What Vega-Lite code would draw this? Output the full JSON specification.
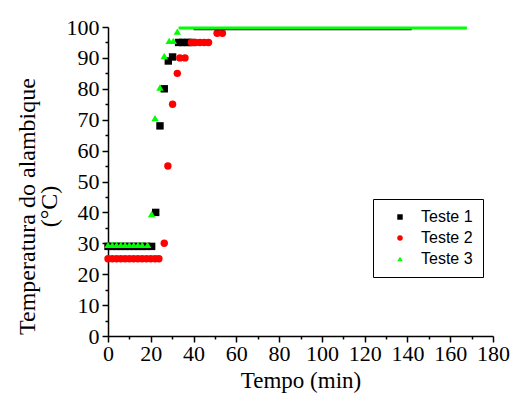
{
  "$schema": "https://vega.github.io/schema/vega-lite/v6.json",
  "width": 385,
  "height": 309,
  "autosize": {"type": "none"},
  "padding": {"left": 108, "top": 27, "right": 20, "bottom": 65},
  "background": "white",
  "config": {
    "font": "Liberation Serif",
    "view": {"stroke": null},
    "axis": {
      "labelFont": "Liberation Serif",
      "labelFontSize": 22,
      "labelColor": "black",
      "titleFont": "Liberation Serif",
      "titleFontSize": 23,
      "titleFontWeight": "normal",
      "titleColor": "black",
      "domainColor": "black",
      "domainWidth": 1.5,
      "tickColor": "black",
      "tickWidth": 1.5,
      "grid": false
    }
  },
  "datasets": {
    "pontos": [
      {"serie": "Teste 1", "tempo": 0, "temp": 29},
      {"serie": "Teste 1", "tempo": 2, "temp": 29},
      {"serie": "Teste 1", "tempo": 4, "temp": 29},
      {"serie": "Teste 1", "tempo": 6, "temp": 29},
      {"serie": "Teste 1", "tempo": 8, "temp": 29},
      {"serie": "Teste 1", "tempo": 10, "temp": 29},
      {"serie": "Teste 1", "tempo": 12, "temp": 29},
      {"serie": "Teste 1", "tempo": 14, "temp": 29},
      {"serie": "Teste 1", "tempo": 16, "temp": 29},
      {"serie": "Teste 1", "tempo": 18, "temp": 29},
      {"serie": "Teste 1", "tempo": 20.4, "temp": 29},
      {"serie": "Teste 1", "tempo": 22.3, "temp": 40},
      {"serie": "Teste 1", "tempo": 24.3, "temp": 68},
      {"serie": "Teste 1", "tempo": 26.3, "temp": 80},
      {"serie": "Teste 1", "tempo": 28.2, "temp": 89},
      {"serie": "Teste 1", "tempo": 30.2, "temp": 90.3},
      {"serie": "Teste 1", "tempo": 33, "temp": 95},
      {"serie": "Teste 1", "tempo": 35, "temp": 95},
      {"serie": "Teste 1", "tempo": 37, "temp": 95},
      {"serie": "Teste 1", "tempo": 39, "temp": 95},
      {"serie": "Teste 2", "tempo": 0, "temp": 25},
      {"serie": "Teste 2", "tempo": 2, "temp": 25},
      {"serie": "Teste 2", "tempo": 4, "temp": 25},
      {"serie": "Teste 2", "tempo": 6, "temp": 25},
      {"serie": "Teste 2", "tempo": 8, "temp": 25},
      {"serie": "Teste 2", "tempo": 10, "temp": 25},
      {"serie": "Teste 2", "tempo": 12, "temp": 25},
      {"serie": "Teste 2", "tempo": 14, "temp": 25},
      {"serie": "Teste 2", "tempo": 16, "temp": 25},
      {"serie": "Teste 2", "tempo": 18, "temp": 25},
      {"serie": "Teste 2", "tempo": 20, "temp": 25},
      {"serie": "Teste 2", "tempo": 22, "temp": 25},
      {"serie": "Teste 2", "tempo": 23.8, "temp": 25},
      {"serie": "Teste 2", "tempo": 26.3, "temp": 30},
      {"serie": "Teste 2", "tempo": 28, "temp": 55},
      {"serie": "Teste 2", "tempo": 30.2, "temp": 75},
      {"serie": "Teste 2", "tempo": 32.4, "temp": 85},
      {"serie": "Teste 2", "tempo": 33.6, "temp": 90},
      {"serie": "Teste 2", "tempo": 36, "temp": 90},
      {"serie": "Teste 2", "tempo": 39, "temp": 95},
      {"serie": "Teste 2", "tempo": 41, "temp": 95},
      {"serie": "Teste 2", "tempo": 43, "temp": 95},
      {"serie": "Teste 2", "tempo": 45, "temp": 95},
      {"serie": "Teste 2", "tempo": 47, "temp": 95},
      {"serie": "Teste 2", "tempo": 51, "temp": 98},
      {"serie": "Teste 2", "tempo": 53.5, "temp": 98},
      {"serie": "Teste 3", "tempo": 0, "temp": 29.5},
      {"serie": "Teste 3", "tempo": 2, "temp": 29.5},
      {"serie": "Teste 3", "tempo": 4, "temp": 29.5},
      {"serie": "Teste 3", "tempo": 6, "temp": 29.5},
      {"serie": "Teste 3", "tempo": 8, "temp": 29.5},
      {"serie": "Teste 3", "tempo": 10, "temp": 29.5},
      {"serie": "Teste 3", "tempo": 12, "temp": 29.5},
      {"serie": "Teste 3", "tempo": 14, "temp": 29.5},
      {"serie": "Teste 3", "tempo": 16, "temp": 29.5},
      {"serie": "Teste 3", "tempo": 18.5, "temp": 29.5},
      {"serie": "Teste 3", "tempo": 20.4, "temp": 39.5},
      {"serie": "Teste 3", "tempo": 22, "temp": 70.5},
      {"serie": "Teste 3", "tempo": 24.3, "temp": 80.4},
      {"serie": "Teste 3", "tempo": 26.3, "temp": 90.6},
      {"serie": "Teste 3", "tempo": 28.6, "temp": 95.5},
      {"serie": "Teste 3", "tempo": 30.5, "temp": 95.5},
      {"serie": "Teste 3", "tempo": 32.4, "temp": 98.5}
    ],
    "patamar": [
      {"serie": "Teste 1", "tempo": 40, "temp": 99.3},
      {"serie": "Teste 1", "tempo": 142, "temp": 99.3},
      {"serie": "Teste 3", "tempo": 33, "temp": 99.7},
      {"serie": "Teste 3", "tempo": 167.8, "temp": 99.7}
    ]
  },
  "encoding": {
    "x": {
      "field": "tempo",
      "type": "quantitative",
      "scale": {"domain": [0, 180], "nice": false},
      "axis": {
        "title": "Tempo (min)",
        "labelFont": "Liberation Serif",
        "titleFont": "Liberation Serif",
        "values": [0, 10, 20, 30, 40, 50, 60, 70, 80, 90, 100, 110, 120, 130, 140, 150, 160, 170, 180],
        "labelExpr": "datum.value % 20 === 0 ? datum.label : ''",
        "tickSize": {"condition": {"test": "datum.value % 20 === 0", "value": 6}, "value": 3},
        "labelPadding": 1,
        "labelFlush": false,
        "labelOverlap": false,
        "titlePadding": 5
      }
    },
    "y": {
      "field": "temp",
      "type": "quantitative",
      "scale": {"domain": [0, 100], "nice": false},
      "axis": {
        "title": ["Temperatura do alambique", "(°C)"],
        "labelFont": "Liberation Serif",
        "titleFont": "Liberation Serif",
        "titleFontSize": 24,
        "titleLineHeight": 22,
        "titleY": 179,
        "values": [0, 5, 10, 15, 20, 25, 30, 35, 40, 45, 50, 55, 60, 65, 70, 75, 80, 85, 90, 95, 100],
        "labelExpr": "datum.value % 10 === 0 ? datum.label : ''",
        "tickSize": {"condition": {"test": "datum.value % 10 === 0", "value": 6}, "value": 3},
        "labelPadding": 3,
        "labelFlush": false,
        "labelOverlap": false,
        "titlePadding": 5
      }
    }
  },
  "layer": [
    {
      "data": {"name": "pontos"},
      "mark": {"type": "point", "filled": true, "size": 55, "opacity": 1},
      "encoding": {
        "color": {
          "field": "serie",
          "type": "nominal",
          "scale": {"domain": ["Teste 1", "Teste 2", "Teste 3"], "range": ["#000000", "#ff0000", "#00ff00"]},
          "legend": {
            "title": null,
            "orient": "none",
            "legendX": 265,
            "legendY": 172,
            "padding": 10,
            "strokeColor": "black",
            "fillColor": "white",
            "labelFont": "Liberation Sans",
            "labelFontSize": 16,
            "labelColor": "black",
            "symbolSize": 30,
            "symbolOffset": 9,
            "labelOffset": 13,
            "rowPadding": 5,
            "symbolStrokeWidth": 0
          }
        },
        "shape": {
          "field": "serie",
          "type": "nominal",
          "scale": {"domain": ["Teste 1", "Teste 2", "Teste 3"], "range": ["square", "circle", "triangle-up"]}
        }
      }
    },
    {
      "data": {"name": "patamar"},
      "transform": [{"filter": "datum.serie === 'Teste 1'"}],
      "mark": {"type": "line", "color": "#000000", "strokeWidth": 2},
      "encoding": {}
    },
    {
      "data": {"name": "patamar"},
      "transform": [{"filter": "datum.serie === 'Teste 3'"}],
      "mark": {"type": "line", "color": "#00ff00", "strokeWidth": 3},
      "encoding": {}
    }
  ]
}
